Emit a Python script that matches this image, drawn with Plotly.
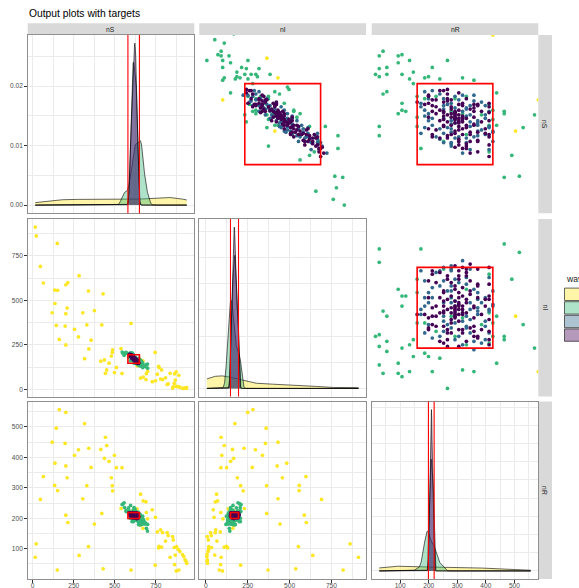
import numpy as np
import plotly.graph_objects as go

# ---------------- data ----------------
var_names = ["nS", "nI", "nR"]
target_lo = [580, 147, 199]
target_hi = [650, 195, 219]
wave_labels = ["0", "1", "2", "3"]
wave_colors = ["#FDE725", "#35B779", "#31688E", "#440154"]
tick_steps = [250, 250, 100]

# points as (nS, nI, nR)
wave0_points = [
    (162, 281, 557), (202, 250, 548), (316, 173, 511), (144, 360, 496), (119, 431, 450), (198, 356, 446),
    (443, 91, 466), (451, 110, 439), (279, 296, 425), (255, 338, 407), (342, 228, 430), (415, 159, 426),
    (437, 166, 397), (465, 148, 387), (498, 95, 407), (510, 124, 366), (544, 90, 366), (136, 483, 381),
    (202, 426, 372), (356, 277, 367), (65, 598, 337), (210, 457, 333), (479, 188, 333), (134, 558, 308),
    (152, 557, 291), (330, 363, 307), (485, 208, 307), (487, 223, 290), (47, 691, 262), (305, 431, 264),
    (421, 363, 216), (202, 588, 210), (214, 600, 186), (376, 443, 181), (22, 862, 116), (16, 912, 72),
    (340, 553, 107), (283, 639, 78), (150, 820, 30), (429, 537, 34), (599, 371, 30), (538, 230, 232),
    (657, 64, 279), (673, 70, 257), (690, 56, 254), (728, 44, 228), (700, 102, 198), (748, 49, 203),
    (672, 161, 167), (759, 86, 155), (779, 59, 162), (791, 56, 153), (819, 28, 153), (825, 32, 143),
    (809, 66, 125), (769, 123, 108), (785, 110, 105), (767, 130, 103), (852, 8, 140), (856, 15, 129),
    (837, 91, 72), (862, 34, 104), (876, 17, 107), (886, 16, 98), (896, 13, 91), (868, 53, 79),
    (912, 7, 81), (920, 6, 74), (928, 9, 63), (938, 10, 52), (864, 88, 48), (874, 99, 27),
    (890, 80, 30), (746, 208, 46), (934, 7, 59), (636, 133, 231), (609, 166, 225), (655, 168, 177),
    (692, 89, 219),
]

wave1_points = [
    (674, 137, 189), (678, 132, 190), (674, 132, 194), (675, 130, 195), (670, 133, 197), (663, 148, 189),
    (664, 145, 191), (668, 138, 194), (658, 154, 188), (656, 155, 189), (658, 151, 191), (658, 147, 195),
    (660, 142, 198), (654, 149, 197), (664, 133, 203), (670, 123, 207), (655, 144, 201), (656, 142, 202),
    (654, 141, 205), (655, 134, 211), (653, 133, 214), (650, 152, 198), (641, 169, 190), (643, 166, 191),
    (633, 172, 195), (639, 162, 199), (637, 162, 201), (627, 178, 195), (626, 178, 196), (624, 182, 194),
    (642, 138, 220), (639, 149, 212), (637, 154, 209), (639, 157, 204), (626, 166, 208), (624, 165, 211),
    (621, 180, 199), (632, 150, 218), (627, 154, 219), (626, 152, 222), (624, 154, 222), (614, 166, 220),
    (619, 162, 219), (614, 168, 218), (623, 147, 230), (612, 161, 227), (613, 198, 189), (605, 206, 189),
    (594, 206, 200), (600, 194, 206), (598, 194, 208), (606, 182, 212), (591, 191, 218), (588, 188, 224),
    (569, 209, 222), (570, 204, 226), (613, 188, 199), (623, 161, 216),
    (688, 128, 184), (685, 134, 181), (670, 149, 181), (663, 156, 181), (658, 163, 179), (647, 174, 179),
    (645, 175, 180), (617, 148, 235), (596, 162, 242), (584, 182, 234), (550, 203, 247),
    (557, 192, 251), (699, 143, 158), (545, 210, 245), (693, 140, 167), (700, 120, 180), (560, 205, 235),
]

wave2_points = [
    (644, 153, 203), (641, 154, 205), (637, 161, 202), (637, 157, 206), (636, 154, 210), (640, 149, 211),
    (631, 156, 213), (634, 150, 216), (631, 152, 217), (633, 167, 200), (631, 163, 206), (624, 174, 202),
    (632, 161, 207), (629, 162, 209), (629, 159, 212), (626, 163, 211), (625, 166, 209), (623, 164, 213),
    (623, 160, 217), (627, 172, 201), (620, 177, 203), (620, 174, 206), (619, 172, 209), (621, 168, 211),
    (617, 170, 213), (618, 167, 215), (620, 163, 217), (612, 181, 207), (616, 175, 209), (613, 174, 213),
    (614, 171, 215), (613, 169, 218), (614, 183, 203), (612, 187, 201), (611, 181, 208), (608, 173, 219),
    (604, 192, 204), (607, 187, 206), (598, 194, 208), (604, 186, 210), (603, 185, 212), (604, 182, 214),
    (610, 174, 216), (609, 172, 219), (599, 195, 206), (603, 188, 209), (599, 189, 212), (606, 177, 217),
    (590, 199, 211), (593, 189, 218), (599, 193, 208),
    (643, 156, 201), (639, 152, 209), (635, 151, 214), (630, 170, 200), (628, 166, 206), (626, 156, 218),
    (622, 177, 201), (618, 180, 202), (616, 169, 215), (615, 177, 208), (611, 184, 205), (609, 176, 215),
    (607, 193, 200), (605, 180, 215), (602, 193, 205), (600, 181, 219), (596, 196, 208), (593, 194, 213),
    (622, 166, 212), (633, 159, 208), (608, 184, 208), (618, 174, 208), (628, 160, 212), (640, 146, 214),
    (612, 170, 218),
]

wave3_points = [
    (644, 151, 205), (640, 158, 202), (636, 161, 203), (636, 160, 204), (644, 150, 206), (637, 156, 207),
    (636, 156, 208), (642, 148, 210), (637, 151, 212), (632, 154, 214), (632, 153, 215), (631, 154, 215),
    (633, 149, 218), (634, 167, 199), (632, 167, 201), (633, 165, 202), (631, 166, 203), (630, 166, 204),
    (627, 168, 205), (626, 171, 203), (624, 172, 204), (623, 170, 207), (630, 162, 208), (632, 158, 210),
    (631, 158, 211), (628, 159, 213), (623, 167, 210), (626, 160, 214), (626, 158, 216), (625, 157, 218),
    (630, 152, 218), (626, 168, 206), (621, 177, 202), (618, 177, 205), (617, 176, 207), (621, 171, 208),
    (617, 173, 210), (620, 168, 212), (621, 165, 214), (617, 167, 216), (618, 164, 218), (614, 180, 206),
    (614, 178, 208), (613, 177, 210), (614, 174, 212), (614, 172, 214), (611, 172, 217), (610, 186, 204),
    (611, 187, 202), (611, 178, 211), (606, 191, 203), (603, 192, 205), (606, 186, 208), (607, 184, 209),
    (606, 183, 211), (606, 181, 213), (608, 177, 215), (607, 176, 217), (604, 178, 218), (604, 193, 203),
    (603, 190, 207), (597, 193, 210), (600, 187, 213), (600, 185, 215), (606, 176, 218), (594, 195, 211),
    (594, 194, 212), (590, 197, 213), (591, 194, 215), (597, 185, 218), (587, 195, 218), (600, 190, 210),
    (596, 192, 212),
    (645, 148, 207), (641, 152, 207), (639, 159, 202), (635, 158, 207), (633, 156, 211), (629, 157, 214),
    (628, 164, 208), (625, 169, 206), (622, 172, 206), (619, 175, 206), (616, 174, 210), (615, 171, 214),
    (612, 176, 212), (609, 182, 209), (608, 179, 213), (605, 188, 207), (602, 188, 210), (601, 184, 215),
    (598, 190, 212), (595, 196, 209), (619, 170, 211), (627, 163, 210), (634, 160, 206), (610, 180, 210),
    (613, 181, 206),
    (624, 167, 209), (622, 169, 209), (621, 170, 209), (620, 171, 209), (619, 172, 209), (623, 168, 209),
    (625, 166, 209), (618, 172, 210), (617, 172, 211), (626, 165, 209), (622, 167, 211), (620, 170, 210),
    (616, 175, 209), (624, 168, 208), (621, 168, 211),
]

# ---------------- helpers ----------------
W, H = 579, 588
FONT = "Liberation Sans, Arial, sans-serif"
GRID = "#EBEBEB"
BORDER = "#8F8F8F"
FILL_ALPHA = 0.4

# positions in page pixels
col_px = [(27.7, 194.3), (199.3, 366.1), (371.7, 538.3)]
row_px = [(35.0, 213.2), (219.0, 396.5), (401.5, 579.0)]


def pxx(x):
    return x / W


def pxy(y):
    return 1 - y / H


def rgba(hexc, a):
    h = hexc.lstrip("#")
    return f"rgba({int(h[0:2],16)},{int(h[2:4],16)},{int(h[4:6],16)},{a})"


def bw_nrd0(x):
    n = len(x)
    sd = np.std(x, ddof=1)
    q75, q25 = np.percentile(x, [75, 25])
    lo = min(sd, (q75 - q25) / 1.34)
    if lo <= 0:
        lo = sd if sd > 0 else 1.0
    return 0.9 * lo * n ** (-0.2)


def kde(x, grid):
    bw = bw_nrd0(x)
    z = (grid[:, None] - x[None, :]) / bw
    return np.exp(-0.5 * z * z).sum(axis=1) / (len(x) * bw * np.sqrt(2 * np.pi))


def nice_step(m):
    best = None
    for s in [0.0005, 0.001, 0.002, 0.005, 0.01, 0.02, 0.05, 0.1]:
        if m / s >= 2.0:
            best = s
    return best


waves = [np.array(p, dtype=float) for p in (wave0_points, wave1_points, wave2_points, wave3_points)]
nvar = len(var_names)

full_rng = []
for v in range(nvar):
    allv = np.concatenate([w[:, v] for w in waves])
    lo, hi = allv.min(), allv.max()
    full_rng.append((lo, hi, [lo - 0.05 * (hi - lo), hi + 0.05 * (hi - lo)]))

upper_rng = []
for v in range(nvar):
    w = target_hi[v] - target_lo[v]
    upper_rng.append([target_lo[v] - 0.6 * w, target_hi[v] + 0.6 * w])

fig = go.Figure()
layout = dict(template="none", width=W, height=H,
              margin=dict(l=0, r=0, t=0, b=0, pad=0, autoexpand=False),
              font=dict(family=FONT, color="#1A1A1A"),
              paper_bgcolor="white", plot_bgcolor="white", showlegend=False)
shapes = []
annotations = []


def make_axis(domain, anchor, rng, grid, border, labels, step, fmt=None, standoff=0):
    d = dict(domain=domain, anchor=anchor, range=rng, zeroline=False, fixedrange=True, automargin=False,
             showgrid=grid, gridcolor=GRID, gridwidth=0.9,
             showline=border, mirror=border, linecolor=BORDER, linewidth=1,
             showticklabels=labels, ticks="outside" if labels else "",
             ticklen=2.5, tickwidth=0.6, tickcolor="#333333",
             tickfont=dict(family=FONT, size=6.6, color="#4D4D4D"))
    if standoff:
        d["ticklabelstandoff"] = standoff
    if step is not None and grid:
        d.update(tick0=0, dtick=step,
                 minor=dict(tick0=0, dtick=step / 2, showgrid=True, gridcolor=GRID, gridwidth=0.45, ticks=""))
    elif step is not None:
        d.update(tick0=0, dtick=step)
    if fmt:
        d["tickformat"] = fmt
    return d


for r in range(nvar):
    for c in range(nvar):
        k = r * nvar + c + 1
        xname = "xaxis" if k == 1 else f"xaxis{k}"
        yname = "yaxis" if k == 1 else f"yaxis{k}"
        xref = "x" if k == 1 else f"x{k}"
        yref = "y" if k == 1 else f"y{k}"
        xdom = [pxx(col_px[c][0]), pxx(col_px[c][1])]
        ydom = [pxy(row_px[r][1]), pxy(row_px[r][0])]
        xlab = (r == nvar - 1)
        ylab = (c == 0)
        xstand = -2 if xlab else 0

        if r == c:
            lo, hi, xr = full_rng[c]
            grid_x = np.linspace(lo, hi, 512)
            dens = [kde(w[:, c], grid_x) for w in waves]
            m = max(d.max() for d in dens)
            ystep = nice_step(m)
            for wi, d in enumerate(dens):
                fig.add_trace(go.Scatter(x=grid_x, y=d, mode="lines", fill="tozeroy",
                                         fillcolor=rgba(wave_colors[wi], FILL_ALPHA),
                                         line=dict(color="black", width=0.6),
                                         xaxis=xref, yaxis=yref, hoverinfo="skip"))
            layout[xname] = make_axis(xdom, yref, xr, True, True, xlab, tick_steps[c], standoff=xstand)
            layout[yname] = make_axis(ydom, xref, [-0.05 * m, 1.05 * m], True, True, ylab, ystep, ".2f")
            for t in (target_lo[c], target_hi[c]):
                shapes.append(dict(type="line", xref=xref, yref=f"{yref} domain", x0=t, x1=t, y0=0, y1=1,
                                   line=dict(color="#FF0000", width=1.1)))
        else:
            if r > c:
                xr, yr = full_rng[c][2], full_rng[r][2]
                grid, border = True, True
            else:
                xr, yr = upper_rng[c], upper_rng[r]
                grid, border = False, False
            for wi, w in enumerate(waves):
                fig.add_trace(go.Scatter(x=w[:, c], y=w[:, r], mode="markers",
                                         marker=dict(color=wave_colors[wi], size=3.7, line=dict(width=0)),
                                         xaxis=xref, yaxis=yref, hoverinfo="skip"))
            layout[xname] = make_axis(xdom, yref, xr, grid, border, xlab and r > c, tick_steps[c],
                                      standoff=xstand if r > c else 0)
            layout[yname] = make_axis(ydom, xref, yr, grid, border, ylab and r > c, tick_steps[r])
            shapes.append(dict(type="rect", xref=xref, yref=yref,
                               x0=target_lo[c], x1=target_hi[c], y0=target_lo[r], y1=target_hi[r],
                               line=dict(color="#FF0000", width=1.6), fillcolor="rgba(0,0,0,0)"))

# strips
strip_top = (23.3, 35.0)
strip_right = (538.3, 552.0)
for c in range(nvar):
    shapes.append(dict(type="rect", xref="paper", yref="paper", layer="below",
                       x0=pxx(col_px[c][0]), x1=pxx(col_px[c][1]), y0=pxy(strip_top[1]), y1=pxy(strip_top[0]),
                       fillcolor="#D9D9D9", line=dict(width=0)))
    annotations.append(dict(text=var_names[c], xref="paper", yref="paper", showarrow=False,
                            x=pxx((col_px[c][0] + col_px[c][1]) / 2), y=pxy(sum(strip_top) / 2),
                            xanchor="center", yanchor="middle",
                            font=dict(family=FONT, size=6.8, color="#1A1A1A")))
for r in range(nvar):
    shapes.append(dict(type="rect", xref="paper", yref="paper", layer="below",
                       x0=pxx(strip_right[0]), x1=pxx(strip_right[1]), y0=pxy(row_px[r][1]), y1=pxy(row_px[r][0]),
                       fillcolor="#D9D9D9", line=dict(width=0)))
    annotations.append(dict(text=var_names[r], xref="paper", yref="paper", showarrow=False, textangle=90,
                            x=pxx(sum(strip_right) / 2), y=pxy((row_px[r][0] + row_px[r][1]) / 2),
                            xanchor="center", yanchor="middle",
                            font=dict(family=FONT, size=6.8, color="#1A1A1A")))

# title
annotations.append(dict(text="Output plots with targets", xref="paper", yref="paper", showarrow=False,
                        x=pxx(27.3), y=pxy(13.2), xanchor="left", yanchor="middle",
                        font=dict(family=FONT, size=10.3, color="#000000")))

# legend (cut at the right edge as in the reference)
annotations.append(dict(text="wave", xref="paper", yref="paper", showarrow=False,
                        x=pxx(563.5), y=pxy(279), xanchor="left", yanchor="middle",
                        font=dict(family=FONT, size=8.6, color="#1A1A1A")))
key_top = 287.5
key_h = 13.6
for wi in range(len(wave_labels)):
    y0 = key_top + wi * key_h
    shapes.append(dict(type="rect", xref="paper", yref="paper",
                       x0=pxx(564.5), x1=pxx(592), y0=pxy(y0 + key_h - 0.6), y1=pxy(y0 + 0.6),
                       fillcolor=rgba(wave_colors[wi], FILL_ALPHA), line=dict(color="#222222", width=0.7)))

layout["shapes"] = shapes
layout["annotations"] = annotations
fig.update_layout(**layout)
fig.write_html("out.html", config={"displayModeBar": False},
               post_script="document.body.style.margin='0px';document.body.style.overflow='hidden';")
